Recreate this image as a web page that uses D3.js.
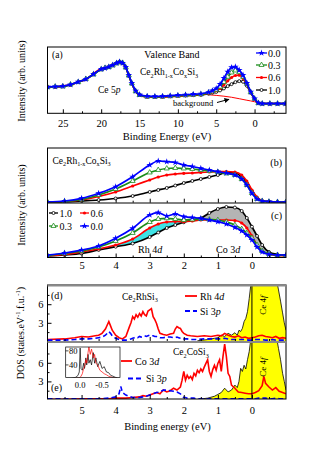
<!DOCTYPE html>
<html><head><meta charset="utf-8">
<script src="https://cdn.jsdelivr.net/npm/d3@7"></script>
<style>
body{margin:0;background:#fff}
svg{display:block}
text{font-family:"Liberation Serif","Times New Roman",serif;fill:#000}
</style>
</head><body>
<script>
// ---- panel (a): valence band, wide range ----
var energyA = [27,26,25,24,23,22,21,20,19.5,19,18.5,18,17.6,17.2,16.8,16.4,16,15.5,15,14,13,12,11,10,9,8,7,6,5.5,5,4.5,4,3.5,3,2.5,2,1.5,1,0.5,0,-0.5,-1,-2,-3,-4];
var a00 = [39.8,40.1,40.9,43.2,47.4,51.5,59.1,66.7,68.2,70.1,72.7,75.8,77.7,75.8,69.7,57.6,45.5,33.8,28.3,25.8,25.5,25.8,26.5,27.3,28.0,28.8,29.5,31.8,34.1,37.4,43.9,53.0,62.6,69.2,70.1,65.1,57.6,45.5,32.3,22.3,15.6,14.7,14.7,14.7,14.7];
var a03 = [39.5,40.3,40.5,43.5,47.0,51.8,58.6,66.2,68.6,69.6,72.2,75.3,77.2,76.1,69.2,57.1,45.0,33.2,27.6,25.1,24.9,25.2,25.8,26.5,27.2,27.9,28.6,31.2,33.0,35.5,40.0,47.0,55.0,61.5,64.5,62.0,55.0,44.5,31.8,22.0,15.4,14.5,14.6,14.5,14.6];
var a06 = [40.2,39.6,41.3,42.7,47.8,51.0,59.5,67.2,67.8,70.5,73.1,75.2,77.4,75.5,69.3,56.8,44.6,32.9,27.2,24.6,24.3,24.6,25.2,26.0,26.7,27.4,28.0,30.2,32.0,34.0,37.5,43.0,49.0,54.0,57.0,57.5,52.5,43.5,31.5,21.8,15.3,14.6,14.5,14.6,14.5];
var a10 = [39.6,40.0,40.7,43.0,47.2,51.3,58.9,66.4,68.0,69.9,72.5,75.5,77.5,75.6,69.5,57.3,45.2,33.4,27.8,25.2,24.8,25.0,25.6,26.2,26.8,27.3,27.8,29.5,30.8,32.2,34.5,37.5,41.0,44.0,47.0,48.5,47.5,41.5,31.0,21.8,15.3,14.5,14.5,14.5,14.5];
var bgE = [6,5,4,3,2,1,0,-0.5,-1,-4];
var bgV = [28.0,27.0,25.8,24.2,22.0,19.7,17.4,15.6,14.7,14.7];
var ticksA = [25,20,15,10,5,0];
var minorA = [22.5,17.5,12.5,7.5,2.5,-2.5];

// ---- panels (b) and (c): near Fermi level ----
var energyB = [6,5.5,5,4.5,4,3.5,3,2.75,2.5,2.25,2,1.75,1.5,1.25,1,0.75,0.5,0.3,0.15,0,-0.15,-0.3,-0.5,-0.75,-1];
var b00 = [1.3,3.1,8.0,17.2,29.2,47.5,68.9,76.2,74.9,73.5,68.9,66.2,62.9,59.8,56.7,54.3,50.6,43.3,32.4,17.2,6.8,3.1,1.8,1.3,1.3];
var b03 = [1.3,2.2,5.8,14.1,25.0,39.7,55.2,59.8,62.5,63.4,62.5,61.6,59.8,58.0,56.1,53.4,50.6,43.3,32.4,17.7,6.8,3.1,1.8,1.3,1.3];
var b06 = [0.7,2.2,4.9,11.3,19.6,30.5,41.5,47.0,50.6,52.5,53.7,54.3,55.2,56.1,57.0,57.0,56.1,50.6,39.7,23.2,10.4,4.0,1.8,1.3,1.3];
var b10 = [0.7,1.3,3.1,4.9,7.7,12.2,19.6,23.2,26.9,31.4,36.0,39.7,43.3,47.0,50.6,55.2,54.3,47.0,36.0,21.4,8.6,3.1,1.8,1.3,1.3];
var c00 = [4.6,8.3,13.8,21.1,35.2,53.6,78.0,82.2,76.2,79.8,74.9,73.4,71.9,68.8,65.7,61.5,55.4,48.6,41.3,32.1,19.3,10.1,5.9,4.6,4.6];
var c03 = [3.7,7.3,11.9,19.3,30.3,45.0,65.1,70.6,71.9,70.6,68.8,69.7,70.6,69.7,68.8,65.1,59.6,52.3,45.0,35.8,22.9,11.9,6.4,4.6,3.7];
var c06 = [2.8,5.5,10.1,15.6,22.9,33.9,54.1,61.5,65.1,66.1,65.7,67.0,68.8,68.8,68.8,68.8,67.9,63.3,54.1,39.5,22.9,11.9,5.9,3.7,2.8];
var c10 = [2.8,4.6,7.3,13.8,19.8,25.7,37.6,45.9,54.1,59.6,64.6,68.8,71.9,81.7,89.0,92.7,91.7,85.3,72.5,56.5,39.5,22.9,10.1,5.5,3.7];
var ticksB = [5,4,3,2,1,0];
var minorB = [5.5,4.5,3.5,2.5,1.5,0.5,-0.5];

// ---- panel (d): Ce2RhSi3 DOS ----
var energyD = [6,5.5,5.2,5.0,4.8,4.6,4.5,4.4,4.3,4.25,4.2,4.15,4.1,4.0,3.9,3.8,3.7,3.6,3.55,3.5,3.45,3.4,3.35,3.3,3.25,3.2,3.15,3.1,3.05,3.0,2.95,2.9,2.85,2.8,2.75,2.7,2.6,2.5,2.4,2.3,2.25,2.2,2.15,2.1,2.05,2.0,1.9,1.8,1.6,1.4,1.2,1.0,0.9,0.8,0.7,0.6,0.5,0.4,0.3,0.2,0.1,0,-0.1,-0.2,-0.3,-0.4,-0.5,-0.6,-0.7,-0.8,-0.9,-1.0];
var rh4d = [0.3,0.4,0.6,0.8,0.7,0.9,1.0,1.3,2.0,2.6,3.2,2.5,1.8,1.0,0.6,0.4,0.8,2.3,3.0,4.0,3.6,4.3,3.9,4.5,4.1,4.8,4.3,4.1,4.9,5.1,5.3,4.0,3.5,2.9,2.0,1.3,1.1,1.0,1.2,1.3,2.0,2.4,2.2,2.1,1.6,1.3,1.0,0.9,0.8,0.9,0.8,1.0,0.9,1.3,1.0,0.8,0.7,0.9,0.6,0.7,0.5,0.6,0.7,0.9,1.0,0.8,0.7,0.6,0.8,0.5,0.6,0.5];
var si3pD = [0.2,0.2,0.3,0.4,0.4,0.5,0.6,0.7,1.0,1.3,1.6,1.3,0.9,0.5,0.3,0.2,0.2,0.3,0.4,0.5,0.6,0.7,0.6,0.8,0.7,0.8,0.9,0.8,0.9,1.0,0.9,0.9,0.8,0.8,0.7,0.6,0.6,0.7,0.7,0.6,0.6,0.7,0.6,0.5,0.5,0.4,0.4,0.3,0.3,0.4,0.4,0.4,0.4,0.5,0.4,0.3,0.3,0.3,0.3,0.3,0.2,0.2,0.3,0.3,0.3,0.2,0.2,0.3,0.2,0.2,0.2,0.2];
var energyCe = [1.6,1.3,1.1,1.0,0.9,0.8,0.7,0.6,0.5,0.43,0.38,0.33,0.28,0.23,0.18,0.13,0.08,0.04,0,-0.3,-0.6,-0.72,-0.78,-0.84,-0.9,-0.95,-1.0];
var ce4fD = [0.1,0.3,0.5,0.6,1.0,0.8,1.3,1.0,1.4,1.0,1.8,1.6,2.1,3.2,3.7,4.8,6.9,8.8,11,14,13,10,8.3,6.5,4.6,3.0,1.8];

// ---- panel (e): Ce2CoSi3 DOS ----
var energyE = [6,5.5,5.0,4.5,4.2,4.0,3.9,3.85,3.8,3.7,3.5,3.3,3.2,3.1,3.0,2.9,2.8,2.7,2.6,2.5,2.4,2.3,2.2,2.1,2.05,2.0,1.95,1.9,1.85,1.8,1.75,1.7,1.65,1.6,1.55,1.5,1.45,1.4,1.35,1.3,1.25,1.2,1.15,1.1,1.05,1.0,0.95,0.9,0.85,0.8,0.75,0.7,0.65,0.6,0.5,0.4,0.3,0.2,0.1,0,-0.1,-0.2,-0.3,-0.35,-0.4,-0.5,-0.6,-0.7,-0.8,-0.9,-1.0];
var co3d = [0.1,0.1,0.2,0.2,0.2,0.3,0.3,0.3,0.3,0.3,0.4,0.5,0.7,0.6,0.8,1.0,1.2,1.0,1.6,1.3,1.5,1.9,1.6,2.1,3.2,4.6,3.2,4.0,3.5,3.8,3.3,4.3,3.9,4.8,4.4,5.0,4.6,5.3,5.9,6.5,4.6,3.8,4.9,5.6,4.8,5.9,6.5,4.6,7.0,9.0,7.0,4.3,3.8,2.4,1.9,1.3,1.2,1.1,1.0,1.0,1.2,1.5,2.3,3.8,2.7,2.1,1.6,2.0,1.4,1.2,1.0];
var si3pE = [0.2,0.2,0.2,0.2,0.3,0.5,1.0,2.2,1.2,0.8,0.4,0.4,0.5,0.6,0.8,1.0,1.2,1.3,1.6,1.6,1.5,1.4,1.3,1.0,0.7,0.4,0.4,0.3,0.3,0.3,0.3,0.3,0.2,0.2,0.2,0.2,0.2,0.2,0.2,0.2,0.2,0.2,0.2,0.2,0.2,0.2,0.2,0.2,0.2,0.2,0.2,0.2,0.2,0.2,0.2,0.2,0.2,0.2,0.2,0.2,0.2,0.3,0.3,0.3,0.3,0.2,0.2,0.3,0.2,0.2,0.2];
var ce4fE = [0.1,0.3,0.6,0.9,1.2,1.9,1.3,1.6,2.4,2.0,3.0,5.1,4.6,5.6,5.0,6.5,7.8,9.5,11,14,13,10.2,8.3,6.5,4.3,3.0,1.6];
var ticksDOS = [3,6];
var minorDOS = [1.5,4.5,7.5];

// inset of (e)
var insetE = [0.2,0.1,0.05,0.02,0,-0.02,-0.05,-0.08,-0.1,-0.13,-0.15,-0.18,-0.2,-0.23,-0.26,-0.3,-0.33,-0.36,-0.4,-0.45,-0.5,-0.55,-0.6,-0.65,-0.7,-0.75,-0.8,-0.85];
var insetCe = [2,5,10,20,88,30,25,45,30,60,40,70,45,55,40,75,45,60,35,50,30,35,20,18,10,8,5,3];
var insetCo = [1,2,3,4,5,8,15,30,35,55,45,75,92,70,85,60,70,45,40,25,20,15,12,8,6,4,3,2];
var insetXTicks = [0.0,-0.5];
var insetYTicks = [40,80];

var L = 47.5, R = 286;
var svg = d3.select("body").append("svg").attr("width",317).attr("height",454);
var defs = svg.append("defs");
function clip(id,x,y,w,h){
  defs.append("clipPath").attr("id",id).append("rect").attr("x",x).attr("y",y).attr("width",w).attr("height",h);
  return svg.append("g").attr("clip-path","url(#"+id+")");
}
function zip(xs,ys){ return xs.map(function(e,i){return [e,ys[i]];}); }

// text with sub/sup/italic parts
function rich(g,x,y,parts,fs,anchor){
  var t = g.append("text").attr("x",x).attr("y",y).attr("font-size",fs).attr("text-anchor",anchor||"start");
  var off = 0;
  parts.forEach(function(p){
    var k = p[1], target = k=="sub" ? fs*0.3 : (k=="sup" ? -fs*0.4 : 0);
    var ts = t.append("tspan").text(p[0]).attr("dy",target-off);
    off = target;
    if(k=="sub"||k=="sup") ts.attr("font-size",fs*0.65);
    if(k=="i") ts.attr("font-style","italic");
  });
  return t;
}

var series = [
  {key:"1.0", color:"#000", sym:"circle"},
  {key:"0.6", color:"#ff0000", sym:"dot"},
  {key:"0.3", color:"#1a8c1a", sym:"tri"},
  {key:"0.0", color:"#0000ff", sym:"star"}
];
function marker(g,s,x,y){
  if(s.sym=="circle") g.append("circle").attr("cx",x).attr("cy",y).attr("r",1.5).attr("fill","#fff").attr("stroke","#000").attr("stroke-width",0.8);
  else if(s.sym=="dot") g.append("circle").attr("cx",x).attr("cy",y).attr("r",1.6).attr("fill",s.color);
  else if(s.sym=="tri") g.append("path").attr("d",d3.symbol().type(d3.symbolTriangle).size(11)()).attr("transform","translate("+x+","+y+")").attr("fill","#fff").attr("stroke",s.color).attr("stroke-width",0.8);
  else g.append("path").attr("d",d3.symbol().type(d3.symbolStar).size(14)()).attr("transform","translate("+x+","+y+")").attr("fill",s.color);
}
function drawSeries(g,x,y,E,vals,s){
  var line = d3.line().x(function(d){return x(d[0]);}).y(function(d){return y(d[1]);}).curve(d3.curveMonotoneX);
  var pts = zip(E,vals);
  g.append("path").attr("d",line(pts)).attr("fill","none").attr("stroke",s.color).attr("stroke-width",1.7);
  pts.forEach(function(p){ marker(g,s,x(p[0]),y(p[1])); });
}
function bottomTicks(x,yPos,majors,minors,labels,pad){
  var ax = svg.append("g").attr("transform","translate(0,"+yPos+")")
    .call(d3.axisBottom(x).tickValues(majors).tickSize(-4).tickPadding(pad).tickFormat(labels ? d3.format("d") : ""));
  ax.select(".domain").remove();
  ax.selectAll("text").attr("font-size",10.5).attr("font-family","Liberation Serif").attr("fill","#000");
  var mn = svg.append("g").attr("transform","translate(0,"+yPos+")")
    .call(d3.axisBottom(x).tickValues(minors).tickSize(-2).tickFormat(""));
  mn.select(".domain").remove();
}

// ================= panel (a) =================
var xA = d3.scaleLinear().domain([27,-4.1]).range([L,R]);
var yA = d3.scaleLinear().domain([0,100]).range([113.3,47]);
var gA = clip("ca",L,47,R-L,66.3);
var bgLine = d3.line().x(function(d){return xA(d[0]);}).y(function(d){return yA(d[1]);}).curve(d3.curveMonotoneX);
gA.append("path").attr("d",bgLine(zip(bgE,bgV))).attr("fill","none").attr("stroke","#ff0000").attr("stroke-width",1);
var aVals = {"1.0":a10,"0.6":a06,"0.3":a03,"0.0":a00};
series.forEach(function(s){ drawSeries(gA,xA,yA,energyA,aVals[s.key],s); });
svg.append("rect").attr("x",L).attr("y",47).attr("width",R-L).attr("height",66.3).attr("fill","none").attr("stroke","#000").attr("stroke-width",1);
bottomTicks(xA,113.3,ticksA,minorA,true,6);
svg.append("text").attr("x",167).attr("y",139.5).attr("font-size",10.5).attr("text-anchor","middle").text("Binding Energy (eV)");
svg.append("text").attr("x",52).attr("y",58).attr("font-size",9.5).text("(a)");
svg.append("text").attr("x",172).attr("y",57.5).attr("font-size",10).attr("text-anchor","middle").text("Valence Band");
rich(svg,140,75,[["Ce"],["2","sub"],["Rh"],["1-x","sub"],["Co"],["x","sub"],["Si"],["3","sub"]],9.5);
rich(svg,98,92.5,[["Ce 5"],["p","i"]],9.5);
svg.append("text").attr("x",173).attr("y",106).attr("font-size",8.5).text("background");
defs.append("marker").attr("id","arr").attr("viewBox","0 0 10 10").attr("refX",9).attr("refY",5)
  .attr("markerWidth",5).attr("markerHeight",5).attr("orient","auto")
  .append("path").attr("d","M0,0L10,5L0,10z").attr("fill","#000");
svg.append("line").attr("x1",217).attr("y1",102.5).attr("x2",229).attr("y2",99.3)
  .attr("stroke","#000").attr("stroke-width",1).attr("marker-end","url(#arr)");
// legend (a)
[["0.0",53],["0.3",65],["0.6",77.5],["1.0",90]].forEach(function(r){
  var s = series.filter(function(d){return d.key==r[0];})[0];
  svg.append("line").attr("x1",256).attr("x2",267).attr("y1",r[1]).attr("y2",r[1]).attr("stroke",s.color).attr("stroke-width",1.3);
  marker(svg,s,261.5,r[1]);
  svg.append("text").attr("x",268).attr("y",r[1]+3.5).attr("font-size",10).text(r[0]);
});
svg.append("text").attr("transform","translate(25,81) rotate(-90)").attr("font-size",10).attr("text-anchor","middle").text("Intensity (arb. units)");

// ================= panels (b),(c) =================
var xB = d3.scaleLinear().domain([6,-1]).range([L,R]);
var yB = d3.scaleLinear().domain([0,100]).range([202.7,148]);
var yC = d3.scaleLinear().domain([0,100]).range([257.5,203]);
var gB = clip("cb",L,148,R-L,54.7);
var bVals = {"1.0":b10,"0.6":b06,"0.3":b03,"0.0":b00};
series.forEach(function(s){ drawSeries(gB,xB,yB,energyB,bVals[s.key],s); });
var gC = clip("cc",L,203,R-L,54.5);
var fillA = d3.area().x(function(d){return xB(d[0]);}).curve(d3.curveMonotoneX);
var cPts = energyB.map(function(e,i){return [e,c06[i],c10[i]];});
gC.append("path").attr("d",fillA.y0(function(d){return yC(d[2]);}).y1(function(d){return yC(Math.max(d[1],d[2]));})(cPts)).attr("fill","#3fe3e6");
gC.append("path").attr("d",fillA.y0(function(d){return yC(d[1]);}).y1(function(d){return yC(Math.max(d[1],d[2]));})(cPts)).attr("fill","#b4b4b4");
var cVals = {"1.0":c10,"0.6":c06,"0.3":c03,"0.0":c00};
series.forEach(function(s){ drawSeries(gC,xB,yC,energyB,cVals[s.key],s); });
svg.append("rect").attr("x",L).attr("y",148).attr("width",R-L).attr("height",109.5).attr("fill","none").attr("stroke","#000");
svg.append("line").attr("x1",L).attr("x2",R).attr("y1",203).attr("y2",203).attr("stroke","#000");
bottomTicks(xB,202.7,ticksB,minorB,false,4);
bottomTicks(xB,257.5,ticksB,minorB,true,4.5);
rich(svg,52.5,163.5,[["Ce"],["2","sub"],["Rh"],["1-x","sub"],["Co"],["x","sub"],["Si"],["3","sub"]],9.5);
svg.append("text").attr("x",282).attr("y",166).attr("font-size",10).attr("text-anchor","end").text("(b)");
svg.append("text").attr("x",282).attr("y",218.5).attr("font-size",10).attr("text-anchor","end").text("(c)");
rich(svg,138,253,[["Rh 4"],["d","i"]],10);
rich(svg,216,253,[["Co 3"],["d","i"]],10);
[["1.0",49,213],["0.6",80,213],["0.3",49,226],["0.0",80,226]].forEach(function(r){
  var s = series.filter(function(d){return d.key==r[0];})[0];
  svg.append("line").attr("x1",r[1]).attr("x2",r[1]+9).attr("y1",r[2]).attr("y2",r[2]).attr("stroke",s.color).attr("stroke-width",1.3);
  marker(svg,s,r[1]+4.5,r[2]);
  svg.append("text").attr("x",r[1]+10.5).attr("y",r[2]+3.5).attr("font-size",10).text(r[0]);
});
svg.append("text").attr("transform","translate(25,205) rotate(-90)").attr("font-size",10).attr("text-anchor","middle").text("Intensity (arb. units)");

// ================= panels (d),(e) =================
var yD = d3.scaleLinear().domain([0,9.1]).range([341.4,285]);
var yE = d3.scaleLinear().domain([0,9.27]).range([400,342.5]);
function dosPanel(id,top,h,y,ce,red,blue,E){
  var g = clip(id,L,top,R-L,h);
  var ceArea = d3.area().x(function(d){return xB(d[0]);}).y0(y(0)).y1(function(d){return y(d[1]);});
  var cePts = zip(energyCe,ce);
  g.append("path").attr("d",ceArea(cePts)).attr("fill","#ffff00");
  var ln = d3.line().x(function(d){return xB(d[0]);}).y(function(d){return y(d[1]);});
  g.append("path").attr("d",ln(cePts)).attr("fill","none").attr("stroke","#000").attr("stroke-width",0.8);
  g.append("path").attr("d",ln(zip(E,red))).attr("fill","none").attr("stroke","#ff0000").attr("stroke-width",1.6);
  g.append("path").attr("d",ln(zip(E,blue))).attr("fill","none").attr("stroke","#0000ff").attr("stroke-width",1.6).attr("stroke-dasharray","5,3");
  g.append("line").attr("x1",xB(0)).attr("x2",xB(0)).attr("y1",top).attr("y2",top+h).attr("stroke","#000").attr("stroke-width",1);
  var ya = svg.append("g").attr("transform","translate("+L+",0)")
    .call(d3.axisLeft(y).tickValues(ticksDOS).tickSize(-4).tickPadding(4).tickFormat(d3.format("d")));
  ya.select(".domain").remove();
  ya.selectAll("text").attr("font-size",10.5).attr("font-family","Liberation Serif").attr("fill","#000");
  var ym = svg.append("g").attr("transform","translate("+L+",0)")
    .call(d3.axisLeft(y).tickValues(minorDOS).tickSize(-2).tickFormat(""));
  ym.select(".domain").remove();
}
dosPanel("cd",285,56.7,yD,ce4fD,rh4d,si3pD,energyD);
dosPanel("ce",342.3,56.7,yE,ce4fE,co3d,si3pE,energyE);
svg.append("rect").attr("x",L).attr("y",285).attr("width",R-L).attr("height",114).attr("fill","none").attr("stroke","#000");
svg.append("line").attr("x1",L).attr("x2",R+0.5).attr("y1",285.5).attr("y2",285.5).attr("stroke","#8a8a8a").attr("stroke-width",2.2);
svg.append("line").attr("x1",L).attr("x2",R+0.5).attr("y1",342).attr("y2",342).attr("stroke","#8a8a8a").attr("stroke-width",2.2);
bottomTicks(xB,341,ticksB,minorB,false,4);
bottomTicks(xB,399,ticksB,minorB,true,8);
svg.append("text").attr("x",167.5).attr("y",429.5).attr("font-size",10.5).attr("text-anchor","middle").text("Binding energy (eV)");
svg.append("text").attr("x",51).attr("y",298.5).attr("font-size",10).text("(d)");
svg.append("text").attr("x",51).attr("y",390.5).attr("font-size",10).text("(e)");
rich(svg,122,299.5,[["Ce"],["2","sub"],["RhSi"],["3","sub"]],9.5);
rich(svg,173,355,[["Ce"],["2","sub"],["CoSi"],["3","sub"]],9.5);
rich(svg,266,305,[["Ce 4"],["f","i"]],9).attr("transform","rotate(-90,266,305)").attr("text-anchor","middle");
rich(svg,266,367,[["Ce 4"],["f","i"]],9).attr("transform","rotate(-90,266,367)").attr("text-anchor","middle");
function dosLegend(x1,x2,y,color,dash,label){
  svg.append("line").attr("x1",x1).attr("x2",x2).attr("y1",y).attr("y2",y).attr("stroke",color).attr("stroke-width",1.8).attr("stroke-dasharray",dash);
  rich(svg,x2+3,y+3.5,label,10);
}
dosLegend(185,197,296,"#ff0000",null,[["Rh 4"],["d","i"]]);
dosLegend(185,197,311,"#0000ff","5,3",[["Si 3"],["p","i"]]);
dosLegend(121,132,361,"#ff0000",null,[["Co 3"],["d","i"]]);
dosLegend(128,143,378.5,"#0000ff","5,3",[["Si 3"],["p","i"]]);
rich(svg,24,333,[["DOS (states.eV"],["-1","sup"],[".f.u."],["-1","sup"],[")"]],10).attr("text-anchor","middle").attr("transform","rotate(-90,24,333)");

// inset
var ix = d3.scaleLinear().domain([0.33,-0.91]).range([65.7,120]);
var iy = d3.scaleLinear().domain([0,91]).range([379,347]);
var gI = clip("ci",65.7,347,54.3,30.5);
gI.append("rect").attr("x",65.7).attr("y",347).attr("width",54.3).attr("height",30.5).attr("fill","#fff");
var il = d3.line().x(function(d){return ix(d[0]);}).y(function(d){return iy(d[1]);});
gI.append("path").attr("d",il(zip(insetE,insetCe))).attr("fill","none").attr("stroke","#000").attr("stroke-width",0.7);
gI.append("path").attr("d",il(zip(insetE,insetCo))).attr("fill","none").attr("stroke","#ff0000").attr("stroke-width",0.7);
svg.append("rect").attr("x",65.7).attr("y",347).attr("width",54.3).attr("height",30.5).attr("fill","none").attr("stroke","#000").attr("stroke-width",0.7);
insetYTicks.forEach(function(v){
  svg.append("line").attr("x1",65.7).attr("x2",68.5).attr("y1",iy(v)).attr("y2",iy(v)).attr("stroke","#000").attr("stroke-width",0.7);
  svg.append("text").attr("x",69).attr("y",iy(v)+3).attr("font-size",8.5).text(v);
});
insetXTicks.forEach(function(v){
  svg.append("text").attr("x",ix(v)).attr("y",388).attr("font-size",8.5).attr("text-anchor","middle").text(d3.format(".1f")(v).replace("−","-"));
});
</script>
</body></html>
